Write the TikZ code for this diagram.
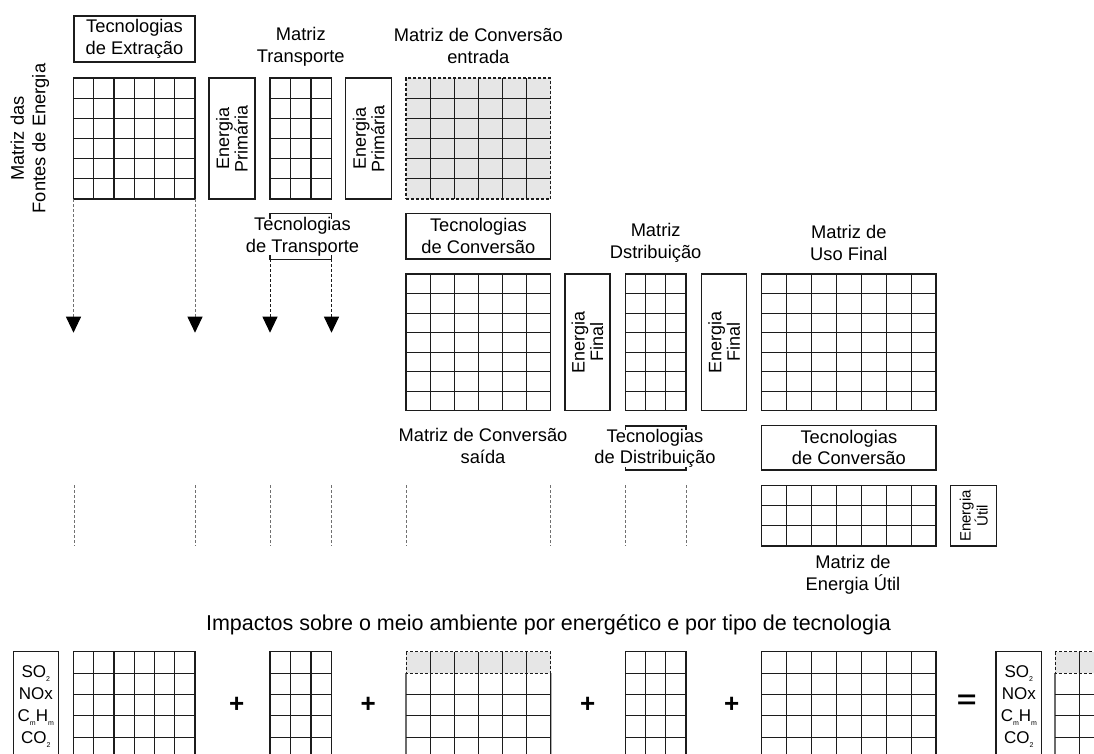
\documentclass[tikz,border=0pt]{standalone}
\usepackage{fontspec}
\setmainfont{Liberation Sans}
\usepackage{tikz}
\usetikzlibrary{arrows.meta,calc}
\definecolor{GRIDC}{HTML}{1C1C1C}
\definecolor{SHADE}{HTML}{E6E6E6}
\definecolor{DASHC}{HTML}{707070}
\newcommand{\lblf}{\fontsize{18.3}{21.5}\selectfont}
\newcommand{\vlblf}{\fontsize{18}{18.5}\selectfont}
\newcommand{\smallf}{\fontsize{15}{15.5}\selectfont}
\newcommand{\titf}{\fontsize{21.5}{24}\selectfont}
\newcommand{\polf}{\fontsize{17}{22}\selectfont}
\newcommand{\opf}{\fontsize{26}{26}\selectfont\bfseries}
\newcommand{\lowidx}[1]{\raisebox{-0.25em}{\fontsize{7}{7}\selectfont #1}}
% inner lines of a matrix node: [first row line]{node}{cols}{rows}
\newcommand{\matlines}[4][1]{%
  \pgfmathtruncatemacro{\matnc}{#3-1}\pgfmathtruncatemacro{\matnr}{#4-1}%
  \foreach \i in {1,...,\matnc}{\draw[gridl] ($(#2.north west)!\i/#3!(#2.north east)$) -- ($(#2.south west)!\i/#3!(#2.south east)$);}%
  \foreach \j in {#1,...,\matnr}{\draw[gridl] ($(#2.north west)!\j/#4!(#2.south west)$) -- ($(#2.north east)!\j/#4!(#2.south east)$);}%
}
% grey first row of a matrix node
\newcommand{\shadetop}[2]{%
  \coordinate (#1-rw) at ($(#1.north west)!1/#2!(#1.south west)$);
  \coordinate (#1-re) at ($(#1.north east)!1/#2!(#1.south east)$);
  \fill[SHADE] (#1.north west) rectangle (#1-re);
  \draw[gridl] (#1-rw) -- (#1.south west) (#1-re) -- (#1.south east);
}
\begin{document}
\begin{tikzpicture}[x=1pt,y=-1pt]
\tikzset{gridl/.style={GRIDC,line width=1.1pt},
 mat/.style={draw=GRIDC,line width=1.1pt,inner sep=0pt,outer sep=0pt},
 box/.style={mat,align=center,font=\lblf},
 vbox/.style={box,rotate=90,font=\vlblf},
 lbl/.style={align=center,font=\lblf,inner sep=0pt},
 poll/.style={align=center,font=\polf,inner sep=0pt},
 shfr/.style={GRIDC,line width=0.9pt,dash pattern=on 3pt off 2pt},
 flow/.style={DASHC,line width=1pt,dash pattern=on 3pt off 2pt},
 flowk/.style={flow,GRIDC},
 flowarr/.style={-{Triangle[length=16pt,width=15pt,color=black]}},
 op/.style={font=\opf,inner sep=0pt}}
\useasboundingbox (0,0) rectangle (1094,753);
\clip (0,0) rectangle (1094,753);

% primary energy
\node[box,minimum width=121,minimum height=46] (textr) at (134.5,39) {Tecnologias\\de Extração};
\node[lbl,rotate=90] (fontesl) at (30,138.5) {Matriz das\\Fontes de Energia};
\node[mat,minimum width=121.5,minimum height=121] (fontes) at (134.25,138.5) {};
\node[vbox,minimum width=121,minimum height=46] (prim1) at (232,138.5) {Energia\\Primária};
\node[lbl] (transl) at (300.75,47) {Matriz\\Transporte};
\node[mat,minimum width=61.5,minimum height=121] (transp) at (300.75,138.5) {};
\node[vbox,minimum width=121,minimum height=46] (prim2) at (368.7,138.5) {Energia\\Primária};
\node[lbl] (convinl) at (478.35,46) {Matriz de Conversão\\entrada};
\node[mat,fill=SHADE,dash pattern=on 3pt off 2pt,minimum width=144.7,minimum height=121] (convin) at (478.35,138.5) {};
\matlines{fontes}{6}{6}
\matlines{transp}{3}{6}
\matlines{convin}{6}{6}

% final energy
\node[mat,minimum width=61.5,minimum height=46] (ttransbox) at (300.75,236.3) {};
\node[lbl,fill=white,inner xsep=0.5pt,inner ysep=-1.5pt] (ttrans) at (302.5,237) {Tecnologias\\de Transporte};
\node[box,minimum width=144.7,minimum height=45.7] (tconv1) at (478.35,236.15) {Tecnologias\\de Conversão};
\node[lbl] (distl) at (655.65,243) {Matriz\\Dstribuição};
\node[lbl] (usol) at (848.85,243) {Matriz de\\Uso Final};
\node[mat,minimum width=144.7,minimum height=136.7] (convout) at (478.35,342.35) {};
\node[vbox,minimum width=136.7,minimum height=45] (fin1) at (587.5,342.35) {Energia\\Final};
\node[mat,minimum width=60.7,minimum height=136.7] (distr) at (655.65,342.35) {};
\node[vbox,minimum width=136.7,minimum height=45] (fin2) at (724.2,342.35) {Energia\\Final};
\node[mat,minimum width=174.3,minimum height=136.7] (uso) at (848.85,342.35) {};
\matlines{convout}{6}{7}
\matlines{distr}{3}{7}
\matlines{uso}{7}{7}
\node[lbl] (convoutl) at (483,446) {Matriz de Conversão\\saída};
\node[mat,minimum width=60.7,minimum height=44] (tdistbox) at (655.65,448) {};
\node[lbl,fill=white,inner xsep=0.5pt,inner ysep=-1pt] (tdist) at (655,448.5) {Tecnologias\\de Distribuição};
\node[box,minimum width=174.3,minimum height=44.7] (tconv2) at (848.85,447.65) {Tecnologias\\de Conversão};
\node[mat,minimum width=174.3,minimum height=60.3] (util) at (848.85,515.85) {};
\matlines{util}{7}{3}
\node[vbox,font=\smallf,minimum width=60.3,minimum height=46] (utilbox) at (973.7,515.85) {Energia\\Útil};
\node[lbl] (utill) at (853,575) {Matriz de\\Energia Útil};

% flows
\coordinate (tipy) at (0,332.7);
\coordinate (a1) at (fontes.south west |- tipy);
\coordinate (a2) at (fontes.south east |- tipy);
\coordinate (a3) at (ttransbox.south west |- tipy);
\coordinate (a4) at (ttransbox.south east |- tipy);
\draw[flow,flowarr] (fontes.south west) -- (a1);
\draw[flow,flowarr] (fontes.south east) -- (a2);
\draw[flowk,flowarr] (ttransbox.south west) -- (a3);
\draw[flowk,flowarr] (ttransbox.south east) -- (a4);
\foreach \x in {74,195,270,331.5,406,550.7,625.3,686}
  \draw[flow] (\x,485) -- (\x,546);

% impacts
\node[lbl,font=\titf] (titulo) at (548.5,625) {Impactos sobre o meio ambiente por energético e por tipo de tecnologia};
\node[mat,minimum width=45,minimum height=128.3] (pol1) at (35.8,715.85) {};
\node[poll] (pol1t) at (35.8,706.5) {SO\lowidx{2}\\NOx\\C\lowidx{m}H\lowidx{m}\\CO\lowidx{2}};
\node[mat,minimum width=121.5,minimum height=128.3] (ga) at (134.25,715.85) {};
\node[mat,minimum width=61.5,minimum height=128.3] (gb) at (300.75,715.85) {};
\node[mat,draw=none,minimum width=144.7,minimum height=128.3] (gc) at (478.35,715.85) {};
\node[mat,minimum width=60.7,minimum height=128.3] (gd) at (655.65,715.85) {};
\node[mat,minimum width=174.3,minimum height=128.3] (ge) at (848.85,715.85) {};
\node[mat,minimum width=45.7,minimum height=128.3] (pol2) at (1018.85,715.85) {};
\node[poll] (pol2t) at (1018.85,706.5) {SO\lowidx{2}\\NOx\\C\lowidx{m}H\lowidx{m}\\CO\lowidx{2}};
\node[mat,draw=none,minimum width=144.7,minimum height=128.3] (gf) at (1127.35,715.85) {};
\matlines{ga}{6}{6}
\matlines{gb}{3}{6}
\shadetop{gc}{6}\matlines[2]{gc}{6}{6}
\draw[shfr] (gc.north west) rectangle (gc-re);
\matlines{gd}{3}{6}
\matlines{ge}{7}{6}
\shadetop{gf}{6}\matlines[2]{gf}{6}{6}
\draw[shfr] (gf.north west) rectangle (gf-re);
\node[op] (mais1) at (236.7,705) {+};
\node[op] (mais2) at (368.3,705) {+};
\node[op] (mais3) at (587.7,705) {+};
\node[op] (mais4) at (731.7,705) {+};
\node[op,xscale=1.3] (igual) at (966.7,701.7) {=};
\end{tikzpicture}
\end{document}
